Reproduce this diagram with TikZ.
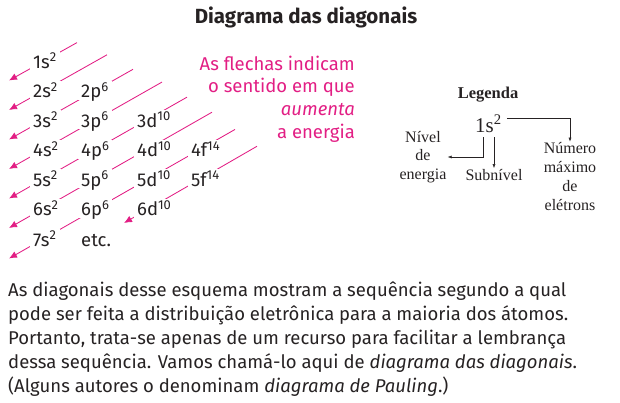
\documentclass[tikz,border=0pt]{standalone}
\usepackage{fontspec}
\setsansfont{Fira Sans}
\newfontfamily\legendfont{Liberation Serif}
\usetikzlibrary{arrows.meta,calc,backgrounds}
\definecolor{energypink}{RGB}{226,30,132}
\definecolor{textgray}{RGB}{38,34,35}

\begin{document}
\begin{tikzpicture}[x=1pt,y=-1pt,font=\sffamily,text=textgray,
 orb/.style={anchor=base west,fill=white,inner xsep=3pt,inner ysep=2pt,text height=15pt,text depth=0pt,font=\sffamily\fontsize{18.5}{18.5}\selectfont},
 diag/.style={-{Latex[length=8pt,width=7pt]},draw=energypink,line width=0.85pt},
 leg/.style={align=center,inner sep=1pt,font=\legendfont\fontsize{16}{18.5}\selectfont},
 legarr/.style={-{Latex[length=4pt,width=3pt]},line width=0.5pt,draw=textgray}]
\useasboundingbox (0,0) rectangle (620,402);
\node[font=\sffamily\bfseries\fontsize{20.5}{20.5}\selectfont] (title) at (306,17) {Diagrama das diagonais};
% orbitais, linha por linha
\node[orb] (s1) at (30,68) {1s\textsuperscript{2}};
\node[orb] (s2) at (30,97.5) {2s\textsuperscript{2}};
\node[orb] (p2) at (78,97.5) {2p\textsuperscript{6}};
\node[orb] (s3) at (30,127) {3s\textsuperscript{2}};
\node[orb] (p3) at (78,127) {3p\textsuperscript{6}};
\node[orb] (d3) at (134,127) {3d\textsuperscript{10}};
\node[orb] (s4) at (30,156.5) {4s\textsuperscript{2}};
\node[orb] (p4) at (78,156.5) {4p\textsuperscript{6}};
\node[orb] (d4) at (134,156.5) {4d\textsuperscript{10}};
\node[orb] (f4) at (188,156.5) {4f\textsuperscript{14}};
\node[orb] (s5) at (30,186) {5s\textsuperscript{2}};
\node[orb] (p5) at (78,186) {5p\textsuperscript{6}};
\node[orb] (d5) at (134,186) {5d\textsuperscript{10}};
\node[orb] (f5) at (188,186) {5f\textsuperscript{14}};
\node[orb] (s6) at (30,215.5) {6s\textsuperscript{2}};
\node[orb] (p6) at (78,215.5) {6p\textsuperscript{6}};
\node[orb] (d6) at (134,215.5) {6d\textsuperscript{10}};
\node[orb] (s7) at (30,246) {7s\textsuperscript{2}};
\node[orb] (etc) at (78,246) {etc.};
% diagonais por baixo dos orbitais
\begin{scope}[on background layer]
\foreach \n/\len in {1/44,2/74,3/100,4/129,5/154,6/179,7/202}{
  \coordinate (top\n) at ($(s\n.base west)+(3+\len,-0.577*\len)$);
  \coordinate (tip\n) at ($(s\n.base west)+(-21,12.5)$);
  \draw[diag] (top\n) -- (tip\n);
}
\coordinate (top8) at ($(d6.base west)+(123,-0.577*120)$);
\coordinate (tip8) at ($(d6.base west)+(-10,7.5)$);
\draw[diag] (top8) -- (tip8);
\end{scope}
\node[anchor=north east,align=right,inner sep=0pt,text=energypink,font=\sffamily\fontsize{18.5}{22.7}\selectfont] (note) at (355,55.5)
 {As flechas indicam\\o sentido em que\\\textit{aumenta}\\a energia};
% legenda
\node[font=\legendfont\bfseries\fontsize{16.5}{16.5}\selectfont] (legtitle) at (488,95) {Legenda};
\node[anchor=base west,inner sep=0pt,text height=20pt,text depth=0pt,font=\legendfont\fontsize{21}{21}\selectfont] (legsym) at (475,132) {1s\textsuperscript{2}};
\node[leg] (nivel) at (423,157) {Nível\\de\\energia};
\node[leg] (subnivel) at (494,175) {Subnível};
\node[leg,font=\legendfont\fontsize{16}{19}\selectfont] (numero) at (570,177) {Número\\máximo\\de\\elétrons};
\draw[legarr] ($(legsym.base west)+(8,5)$) |- (nivel.east);
\draw[legarr] ($(legsym.south -| subnivel.north)+(0,5)$) -- (subnivel.north);
\draw[legarr] ($(legsym.east)+(5,-4)$) -| (numero.north);
% texto
\node[anchor=north west,align=left,inner sep=0pt,font=\sffamily\fontsize{18.5}{24}\selectfont] (body) at (8,281.5)
 {As diagonais desse esquema mostram a sequência segundo a qual\\
  pode ser feita a distribuição eletrônica para a maioria dos átomos.\\
  Portanto, trata-se apenas de um recurso para facilitar a lembrança\\
  dessa sequência. Vamos chamá-lo aqui de \textit{diagrama das diagonais}.\\
  (Alguns autores o denominam \textit{diagrama de Pauling}.)};
\end{tikzpicture}
\end{document}
